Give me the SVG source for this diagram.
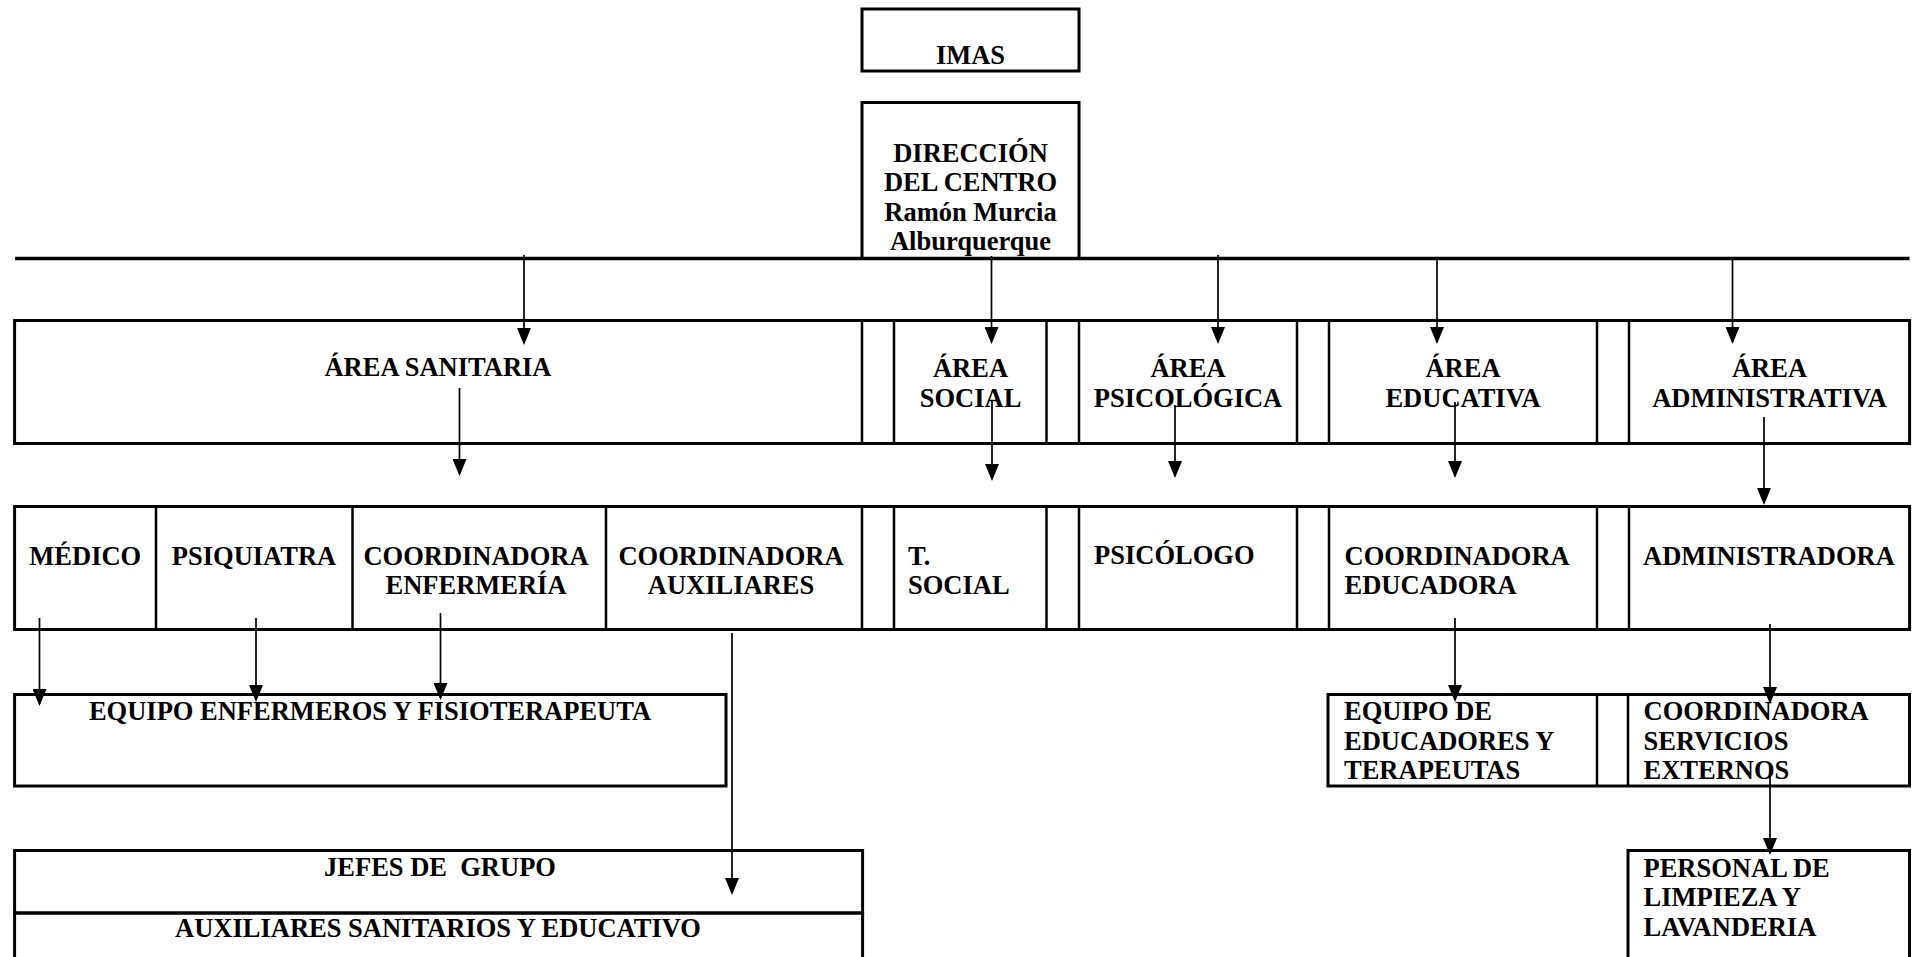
<svg xmlns="http://www.w3.org/2000/svg" width="1912" height="957" viewBox="0 0 1912 957">
<style>
.box{fill:none;stroke:#000;stroke-width:3}
.div{fill:none;stroke:#000;stroke-width:2.5}
.t{font-family:"Liberation Serif","Times New Roman",serif;font-weight:bold;font-size:26.5px;fill:#000}
.c{text-anchor:middle}
.arr{stroke:#000;stroke-width:1.7;fill:none;marker-end:url(#ah)}
</style>
<defs>
<marker id="ah" markerUnits="userSpaceOnUse" markerWidth="17" markerHeight="14" refX="15" refY="7" orient="auto" viewBox="0 0 17 14">
<path d="M0,0 L17,7 L0,14 Z" fill="#000"/>
</marker>
</defs>
<rect width="1912" height="957" fill="#fff"/>

<g id="imas"><rect class="box" x="862" y="9" width="217" height="62"/><text class="t c" x="970.5" y="63.5">IMAS</text></g>
<g id="direccion"><rect class="box" x="862" y="102.5" width="217" height="156"/>
<text class="t c" x="970.5" y="161.5">DIRECCIÓN</text>
<text class="t c" x="970.5" y="191">DEL CENTRO</text>
<text class="t c" x="970.5" y="220.5">Ramón Murcia</text>
<text class="t c" x="970.5" y="250">Alburquerque</text></g>

<g id="frames">
<rect class="box" x="14.6" y="320.5" width="1895" height="123"/>
<path class="div" d="M862,320.5V443.5M894,320.5V443.5M1046.5,320.5V443.5M1079,320.5V443.5M1297,320.5V443.5M1329,320.5V443.5M1597,320.5V443.5M1629,320.5V443.5"/>
<rect class="box" x="14.6" y="506.5" width="1895" height="123"/>
<path class="div" d="M156,506.5V629.5M352.5,506.5V629.5M606,506.5V629.5M862,506.5V629.5M894,506.5V629.5M1046.5,506.5V629.5M1079,506.5V629.5M1297,506.5V629.5M1329,506.5V629.5M1597,506.5V629.5M1629,506.5V629.5"/>
</g>

<g id="area-sanitaria"><text class="t c" x="438" y="376">ÁREA SANITARIA</text></g>
<g id="area-social"><text class="t c" x="970.5" y="377">ÁREA</text><text class="t c" x="970.5" y="407">SOCIAL</text></g>
<g id="area-psicologica"><text class="t c" x="1188" y="377">ÁREA</text><text class="t c" x="1188" y="407">PSICOLÓGICA</text></g>
<g id="area-educativa"><text class="t c" x="1463" y="377">ÁREA</text><text class="t c" x="1463" y="407">EDUCATIVA</text></g>
<g id="area-administrativa"><text class="t c" x="1769.5" y="377">ÁREA</text><text class="t c" x="1769.5" y="407">ADMINISTRATIVA</text></g>

<g id="medico"><text class="t c" x="85.3" y="564.5">MÉDICO</text></g>
<g id="psiquiatra"><text class="t c" x="254" y="564.5">PSIQUIATRA</text></g>
<g id="coord-enfermeria"><text class="t c" x="476" y="564.5">COORDINADORA</text><text class="t c" x="476" y="594">ENFERMERÍA</text></g>
<g id="coord-auxiliares"><text class="t c" x="731" y="564.5">COORDINADORA</text><text class="t c" x="731" y="594">AUXILIARES</text></g>
<g id="t-social"><text class="t" x="908" y="564.5">T.</text><text class="t" x="908" y="594">SOCIAL</text></g>
<g id="psicologo"><text class="t" x="1094" y="563.5">PSICÓLOGO</text></g>
<g id="coord-educadora"><text class="t" x="1344.5" y="564.5">COORDINADORA</text><text class="t" x="1344.5" y="594">EDUCADORA</text></g>
<g id="administradora"><text class="t" x="1643" y="564.5">ADMINISTRADORA</text></g>

<g id="equipo-enfermeros"><rect class="box" x="14.6" y="694.5" width="711.4" height="91.5"/><text class="t c" x="370" y="720">EQUIPO ENFERMEROS Y FISIOTERAPEUTA</text></g>
<g id="frame-row3"><rect class="box" x="1328" y="694.5" width="581.5" height="91.5"/><path class="div" d="M1597,694.5V786M1628,694.5V786"/></g>
<g id="equipo-educadores"><text class="t" x="1344" y="720">EQUIPO DE</text><text class="t" x="1344" y="749.5">EDUCADORES Y</text><text class="t" x="1344" y="779">TERAPEUTAS</text></g>
<g id="coord-servicios"><text class="t" x="1643.5" y="720">COORDINADORA</text><text class="t" x="1643.5" y="749.5">SERVICIOS</text><text class="t" x="1643.5" y="779">EXTERNOS</text></g>

<g id="jefes-grupo"><rect class="box" x="14.6" y="850.5" width="848" height="62.5"/><text class="t c" x="440" y="875.5" style="white-space:pre">JEFES DE  GRUPO</text></g>
<g id="auxiliares"><rect class="box" x="14.6" y="913" width="848" height="70"/><text class="t c" x="438" y="937">AUXILIARES SANITARIOS Y EDUCATIVO</text></g>
<g id="personal-limpieza"><rect class="box" x="1628" y="850.5" width="281.5" height="130"/><text class="t" x="1643.5" y="876.5">PERSONAL DE</text><text class="t" x="1643.5" y="906">LIMPIEZA Y</text><text class="t" x="1643.5" y="935.5">LAVANDERIA</text></g>

<g id="connectors">
<line x1="15" y1="258.5" x2="1909.5" y2="258.5" stroke="#000" stroke-width="3.5"/>
<line class="arr" x1="524" y1="255" x2="524" y2="343"/>
<line class="arr" x1="991.5" y1="256" x2="991.5" y2="342"/>
<line class="arr" x1="1218" y1="255" x2="1218" y2="342"/>
<line class="arr" x1="1437" y1="258" x2="1437" y2="342"/>
<line class="arr" x1="1732.5" y1="258" x2="1732.5" y2="342"/>
<line class="arr" x1="459.5" y1="388" x2="459.5" y2="474"/>
<line class="arr" x1="992" y1="400" x2="992" y2="479"/>
<line class="arr" x1="1175" y1="405" x2="1175" y2="476"/>
<line class="arr" x1="1455" y1="402" x2="1455" y2="476"/>
<line class="arr" x1="1764" y1="417" x2="1764" y2="503"/>
<line class="arr" x1="39.5" y1="618" x2="39.5" y2="704"/>
<line class="arr" x1="256" y1="618" x2="256" y2="700"/>
<line class="arr" x1="440.5" y1="613" x2="440.5" y2="698"/>
<line class="arr" x1="732" y1="633" x2="732" y2="893"/>
<line class="arr" x1="1455" y1="618" x2="1455" y2="700"/>
<line class="arr" x1="1770" y1="624" x2="1770" y2="702"/>
<line class="arr" x1="1770" y1="777" x2="1770" y2="853"/>
</g>
</svg>
